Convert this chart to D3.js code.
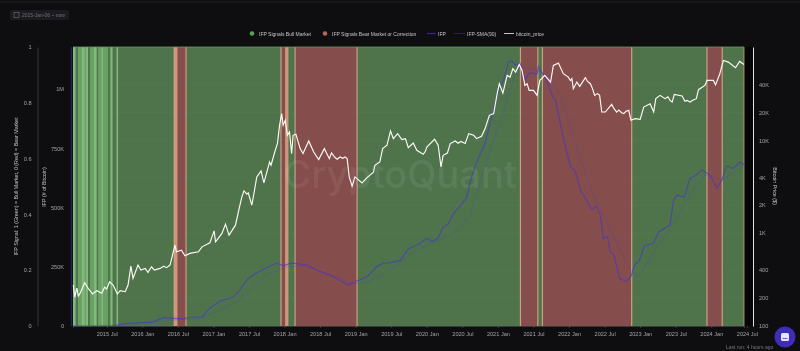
<!DOCTYPE html>
<html lang="en">
<head>
    <meta charset="utf-8" />
    <title>IFP Signals</title>
    <style>
        html, body { margin: 0; padding: 0; background: #0e0e11; overflow: hidden; }
        svg { display: block; filter: blur(0.35px); font-family: "Liberation Sans", sans-serif; }
        .axis text { fill: #a3a3a6; font-size: 5.6px; }
        .axis path, .axis line { stroke: #55555a; stroke-width: 0.6; }
        .title { fill: #c4c4c6; font-size: 5.3px; text-anchor: middle; }
        .legend { fill: #c6c6c8; font-size: 5px; }
    </style>
</head>
<body>
<div id="graph"></div>
<script src="https://d3js.org/d3.v7.min.js"></script>
<script>
    // years counted from 2015
    var priceYear = [0.03,0.05,0.08,0.10,0.13,0.19,0.24,0.30,0.36,0.43,0.47,0.50,0.54,0.59,0.65,0.69,0.76,0.80,0.84,0.87,0.94,0.98,
        1.04,1.08,1.13,1.17,1.25,1.30,1.34,1.39,1.46,1.48,1.55,1.60,1.67,1.79,1.84,1.95,2.01,2.03,2.12,2.17,2.22,2.31,2.36,2.40,2.43,2.47,2.49,2.54,2.57,2.61,2.67,2.71,2.79,2.81,2.87,2.90,2.93,2.96,2.98,
        3.01,3.04,3.07,3.10,3.12,3.16,3.22,3.26,3.34,3.41,3.48,3.56,3.63,3.66,3.71,3.74,3.78,3.82,3.85,3.88,3.91,3.95,3.99,
        4.09,4.16,4.25,4.27,4.34,4.38,4.44,4.49,4.53,4.59,4.65,4.70,4.74,4.81,4.86,4.95,4.98,5.00,5.11,5.16,5.20,5.23,5.29,5.33,5.40,5.44,5.48,5.54,5.59,5.66,5.70,5.77,5.82,5.88,5.94,5.99,
        6.02,6.07,6.13,6.17,6.21,6.25,6.30,6.34,6.38,6.41,6.44,6.50,6.55,6.59,6.66,6.74,6.78,6.85,6.92,6.99,
        7.02,7.04,7.06,7.11,7.15,7.23,7.26,7.30,7.33,7.36,7.40,7.43,7.46,7.51,7.60,7.63,7.67,7.70,7.74,7.77,7.80,7.84,7.87,7.93,8.00,8.05,8.14,8.19,8.22,8.28,8.35,8.39,8.42,8.45,8.48,8.59,8.61,8.63,8.66,8.70,8.74,8.79,8.82,8.91,8.94,
        9.03,9.06,9.12,9.17,9.24,9.34,9.40,9.46];
    var priceUsd = [276,204,256,210,228,292,254,221,240,225,262,250,299,276,221,240,234,276,442,326,453,400,
        417,378,434,400,417,440,425,453,743,629,656,570,605,629,712,786,1058,806,992,1249,951,1218,1811,2456,2848,2626,2712,2000,2672,4032,4672,3472,5840,5382,7802,9216,14490,19354,14490,
        16397,11309,12288,7187,11309,11590,8128,7187,9824,7482,6192,8128,6340,7296,6510,6250,6611,6400,6620,6340,4032,3200,4032,
        3472,3968,4525,5382,5840,8128,8832,12576,10419,11795,10163,10419,8339,9344,7802,7066,7600,8467,10246,8832,5162,6893,7296,9216,9824,9300,9700,9216,11795,11309,10419,11034,13350,18560,19354,31744,
        40653,32256,49946,47872,58982,54221,65587,56525,38989,40653,34458,34458,30438,44134,49946,42317,64000,67738,52070,47872,
        44000,46000,35942,42317,38042,47181,43000,40653,36000,30438,31800,30438,20134,20134,24358,22000,20134,21200,19800,19354,20500,21005,16397,17100,16806,22784,24768,20134,28058,30438,28058,29400,26900,25800,31206,29926,28000,26240,26900,25800,27000,28058,35072,38989,44134,
        44134,39500,52070,72397,69427,60416,70656,65587];

    var ifpYear = [0.03,0.59,0.78,1.13,1.30,1.58,1.65,1.84,1.95,2.09,2.28,2.37,2.49,2.61,2.75,2.89,2.98,3.10,3.31,3.45,3.69,3.90,3.99,
        4.16,4.30,4.39,4.48,4.63,4.74,4.91,5.00,5.07,5.16,5.23,5.30,5.37,5.56,5.63,5.70,5.82,5.89,6.00,6.08,6.15,6.20,6.24,6.31,6.36,6.38,6.45,6.55,6.57,6.64,6.71,6.78,6.81,6.92,
        7.02,7.09,7.16,7.32,7.38,7.44,7.48,7.54,7.58,7.63,7.65,7.71,7.81,7.87,7.92,7.99,8.06,8.19,8.26,8.42,8.47,8.52,8.62,8.70,8.77,8.87,8.98,9.08,9.15,9.21,9.31,9.41,9.46];
    var ifpValue = [0,1,11,16,35,30,37,37,75,105,121,152,201,225,246,265,254,266,257,236,208,173,187,
        208,251,265,266,278,325,349,370,356,370,419,429,471,541,630,688,772,856,983,1038,1115,1118,1101,1108,1066,1038,1069,1063,1094,1059,1017,961,953,792,
        672,651,574,492,506,468,370,377,313,300,278,201,187,208,257,278,339,349,398,426,532,553,543,623,633,658,637,581,616,675,665,693,679];

    var smaYear = [0.03,0.83,1.39,1.81,2.02,2.30,2.51,2.73,3.01,3.29,3.64,3.99,4.20,4.48,4.83,5.18,5.40,5.61,5.82,6.07,6.21,6.31,6.52,6.73,6.90,7.19,7.39,7.65,7.86,7.97,8.21,8.47,8.70,8.91,9.15,9.45];
    var smaValue = [0,4,25,30,59,97,152,211,249,253,215,177,190,236,316,363,397,468,679,899,1038,1093,1084,1051,953,679,519,363,236,207,321,435,553,637,616,671];

    // signal = 0 stretches, the rest of the range is signal = 1
    var bearStart = [1.45,2.95,3.148,6.317,6.626,8.939];
    var bearEnd = [1.615,3.046,4.02,6.562,7.881,9.154];
    var salmonStart = [1.445,3.008];
    var salmonEnd = [1.495,3.046];
    // flickering early signal, 2015
    var midStart = [0.026,0.096,0.265,0.378,0.546];
    var midEnd = [0.068,0.237,0.357,0.518,0.58];
    var lightStart = [0.026,0.15,0.209,0.321,0.427,0.56,0.638];
    var lightEnd = [0.054,0.19,0.237,0.357,0.448,0.58,0.659];

    var yearTicks = [0.5,1,1.5,2,2.5,3,3.5,4,4.5,5,5.5,6,6.5,7,7.5,8,8.5,9,9.5];
    var yearLabels = ["2015 Jul","2016 Jan","2016 Jul","2017 Jan","2017 Jul","2018 Jan","2018 Jul","2019 Jan","2019 Jul","2020 Jan","2020 Jul","2021 Jan","2021 Jul","2022 Jan","2022 Jul","2023 Jan","2023 Jul","2024 Jan","2024 Jul"];
    var signalTicks = [0,0.2,0.4,0.6,0.8,1];
    var ifpTicks = [0,250,500,750,1000];
    var ifpLabels = ["0","250K","500K","750K","1M"];
    var priceTicks = [100,200,400,1000,2000,4000,10000,20000,40000];
    var priceLabels = ["100","200","400","1K","2K","4K","10K","20K","40K"];

    var plotLeft = 73, plotRight = 744, plotTop = 47, plotBottom = 326;

    var x = d3.scaleLinear().domain([0.026, 9.46]).range([plotLeft, plotRight]);
    var ySignal = d3.scaleLinear().domain([0, 1]).range([plotBottom, plotTop]);
    var yIfp = d3.scaleLinear().domain([0, 1177]).range([plotBottom, plotTop]);
    var yPrice = d3.scaleLog().domain([100, 101000]).range([plotBottom, plotTop]);

    var svg = d3.select("#graph").append("svg")
        .attr("width", 800)
        .attr("height", 351);

    svg.append("line").attr("x1", 0).attr("x2", 800).attr("y1", 2).attr("y2", 2)
        .attr("stroke", "#232328").attr("stroke-width", 1);

    // date box
    svg.append("rect").attr("x", 10).attr("y", 10).attr("width", 59).attr("height", 10).attr("rx", 2).attr("fill", "#1c1c20");
    svg.append("rect").attr("x", 14).attr("y", 12.5).attr("width", 5).attr("height", 5).attr("fill", "none").attr("stroke", "#77777b").attr("stroke-width", 0.6);
    svg.append("text").attr("x", 22).attr("y", 17).attr("fill", "#6f6f73").style("font-size", "5px").text("2015-Jan-06 ~ now");

    // strip behind the right axis
    svg.append("rect").attr("x", plotRight).attr("y", plotTop).attr("width", 9).attr("height", plotBottom - plotTop).attr("fill", "#060607");

    // background signal
    svg.append("rect").attr("x", plotLeft).attr("y", ySignal(1)).attr("width", plotRight - plotLeft).attr("height", ySignal(0) - ySignal(1)).attr("fill", "#4f744c");
    function bands(starts, ends, fill) {
        svg.append("g").selectAll("rect").data(starts).join("rect")
            .attr("x", function (d) { return x(d); })
            .attr("y", ySignal(1))
            .attr("width", function (d, i) { return x(ends[i]) - x(d); })
            .attr("height", ySignal(0) - ySignal(1))
            .attr("fill", fill);
    }
    bands(midStart, midEnd, "#6a9f66");
    bands(lightStart, lightEnd, "#7fb97b");
    bands(bearStart, bearEnd, "#854d4b");
    bands(salmonStart, salmonEnd, "#d0957a");

    // tan edge on every switch of the signal
    var edges = bearStart.concat(bearEnd);
    svg.append("g").selectAll("line").data(edges).join("line")
        .attr("x1", function (d) { return x(d); })
        .attr("x2", function (d) { return x(d); })
        .attr("y1", ySignal(1))
        .attr("y2", ySignal(0))
        .attr("stroke", "#c9a182")
        .attr("stroke-width", 1.2);
    svg.append("line").attr("x1", plotRight).attr("x2", plotRight).attr("y1", plotTop).attr("y2", plotBottom).attr("stroke", "#c9a182").attr("stroke-width", 0.8);
    svg.append("line").attr("x1", plotLeft).attr("x2", plotRight).attr("y1", plotTop).attr("y2", plotTop).attr("stroke", "#6b9a68").attr("stroke-width", 0.8);
    svg.append("line").attr("x1", 71.5).attr("x2", 71.5).attr("y1", plotTop).attr("y2", plotBottom).attr("stroke", "#23235a").attr("stroke-width", 1.4);

    // grid
    svg.append("g").selectAll("line").data(priceTicks).join("line")
        .attr("x1", plotLeft).attr("x2", plotRight)
        .attr("y1", function (d) { return yPrice(d); })
        .attr("y2", function (d) { return yPrice(d); })
        .attr("stroke", "#fff").attr("stroke-opacity", 0.05).attr("stroke-width", 0.6);

    // watermark
    svg.append("text").attr("x", 400).attr("y", 188).attr("text-anchor", "middle")
        .attr("fill", "#fff").attr("fill-opacity", 0.07)
        .style("font-size", "38px").style("font-family", "Inter, sans-serif").style("font-weight", 500)
        .text("CryptoQuant");

    var smaLine = d3.line().x(function (d, i) { return x(smaYear[i]); }).y(function (d) { return yIfp(d); });
    var ifpLine = d3.line().x(function (d, i) { return x(ifpYear[i]); }).y(function (d) { return yIfp(d); });
    var priceLine = d3.line().x(function (d, i) { return x(priceYear[i]); }).y(function (d) { return yPrice(d); });

    svg.append("path").attr("d", smaLine(smaValue)).attr("fill", "none").attr("stroke", "#4a3fc0").attr("stroke-opacity", 0.35).attr("stroke-width", 0.8);
    svg.append("path").attr("d", ifpLine(ifpValue)).attr("fill", "none").attr("stroke", "#4636c8").attr("stroke-opacity", 0.65).attr("stroke-width", 1.2);
    svg.append("path").attr("d", priceLine(priceUsd)).attr("fill", "none").attr("stroke", "#fdfaf6").attr("stroke-width", 1.15);

    // axes
    var xAxis = d3.axisBottom(x).tickValues(yearTicks).tickSize(2).tickPadding(4)
        .tickFormat(function (d, i) { return yearLabels[i]; });
    svg.append("g").attr("class", "axis").attr("transform", "translate(0," + plotBottom + ")").call(xAxis)
        .select(".domain").attr("stroke", "#6b6b50");

    var signalAxis = d3.axisLeft(ySignal).tickValues(signalTicks).tickSize(0).tickPadding(6).tickFormat(d3.format("~g"));
    svg.append("g").attr("class", "axis").attr("transform", "translate(37.5,0)").call(signalAxis);

    var ifpAxis = d3.axisLeft(yIfp).tickValues(ifpTicks).tickSize(0).tickPadding(6)
        .tickFormat(function (d, i) { return ifpLabels[i]; });
    svg.append("g").attr("class", "axis").attr("transform", "translate(70,0)").call(ifpAxis)
        .select(".domain").remove();

    var priceAxis = d3.axisRight(yPrice).tickValues(priceTicks).tickSize(0).tickPadding(6)
        .tickFormat(function (d, i) { return priceLabels[i]; });
    svg.append("g").attr("class", "axis").attr("transform", "translate(753,0)").call(priceAxis)
        .select(".domain").style("stroke", "#e4e4e4").style("stroke-width", 1);

    svg.append("text").attr("class", "title").attr("transform", "translate(18,186.5) rotate(-90)").text("IFP Signal: 1 (Green) = Bull Market, 0 (Red) = Bear Market");
    svg.append("text").attr("class", "title").attr("transform", "translate(46,187) rotate(-90)").text("IFP (# of Bitcoin)");
    svg.append("text").attr("class", "title").attr("transform", "translate(773,186) rotate(90)").text("Bitcoin Price ($)");

    // legend
    var legend = svg.append("g").attr("class", "legend");
    legend.append("circle").attr("cx", 252).attr("cy", 33.5).attr("r", 2.3).attr("fill", "#5aa055");
    legend.append("text").attr("x", 259).attr("y", 35.5).text("IFP Signals Bull Market");
    legend.append("circle").attr("cx", 325).attr("cy", 33.5).attr("r", 2.3).attr("fill", "#b5635f");
    legend.append("text").attr("x", 332).attr("y", 35.5).text("IFP Signals Bear Market or Correction");
    legend.append("line").attr("x1", 427).attr("x2", 436).attr("y1", 33.5).attr("y2", 33.5).attr("stroke", "#2f2a9a").attr("stroke-width", 1.2);
    legend.append("text").attr("x", 438).attr("y", 35.5).text("IFP");
    legend.append("line").attr("x1", 454).attr("x2", 465).attr("y1", 33.5).attr("y2", 33.5).attr("stroke", "#24225e").attr("stroke-width", 1);
    legend.append("text").attr("x", 467).attr("y", 35.5).text("IFP-SMA(90)");
    legend.append("line").attr("x1", 504).attr("x2", 514).attr("y1", 33.5).attr("y2", 33.5).attr("stroke", "#c8c8c8").attr("stroke-width", 1);
    legend.append("text").attr("x", 516).attr("y", 35.5).text("bitcoin_price");

    svg.append("text").attr("x", 726).attr("y", 349).attr("fill", "#77777b").style("font-size", "5px").text("Last run: 4 hours ago");

    // chat button
    svg.append("circle").attr("cx", 785).attr("cy", 337).attr("r", 10.5).attr("fill", "#3f2cb8");
    svg.append("rect").attr("x", 781).attr("y", 333).attr("width", 8).attr("height", 8).attr("rx", 1.5).attr("fill", "#e8e6f6");
    svg.append("line").attr("x1", 782.5).attr("x2", 787.5).attr("y1", 338.5).attr("y2", 338.5).attr("stroke", "#3f2cb8").attr("stroke-width", 0.7);
</script>
</body>
</html>
